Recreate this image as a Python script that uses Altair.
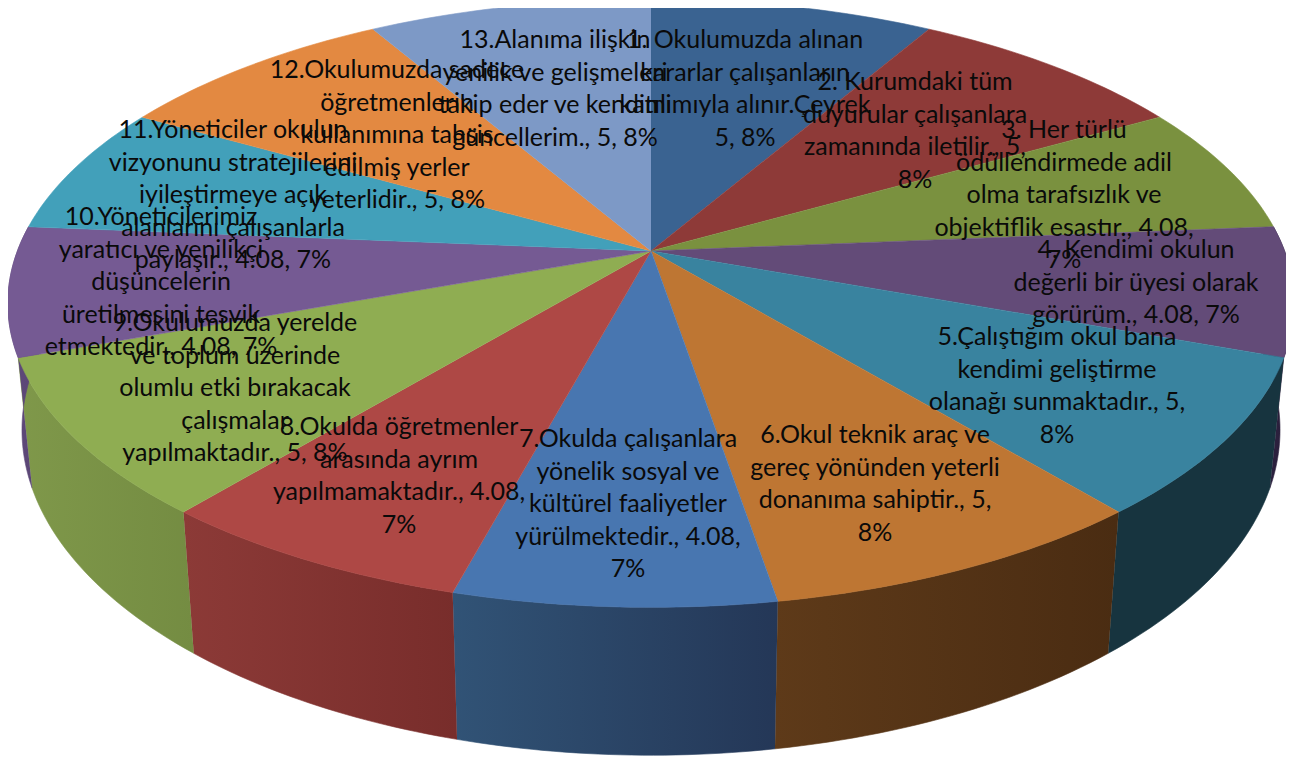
import numpy as np
import pandas as pd
import altair as alt

# ---- data ----
values = [5, 5, 4.08, 4.08, 5, 5, 4.08, 4.08, 5, 4.08, 4.08, 5, 5]
top_colors = ["#3A6391", "#8E3A38", "#7A913F", "#634B78", "#39839F", "#BE7633", "#4876B0",
              "#AE4845", "#8FAD52", "#755A93", "#42A0BA", "#E38941", "#7D99C6"]
wall_colors = [None, None, None, ("#2C2140", "#2A1F3A"), ("#17343F", "#17343F"),
               ("#5E3A19", "#4A2C12"), ("#315376", "#243757"), ("#8C3A37", "#782D2B"),
               ("#7F984A", "#748C42"), ("#5F4A7C", "#5A4573"), None, None, None]
label_lines = [
    ["1. Okulumuzda alınan", "kararlar çalışanların", "katılımıyla alınır.Çeyrek", "5, 8%"],
    ["2. Kurumdaki tüm", "duyurular çalışanlara", "zamanında iletilir., 5,", "8%"],
    ["3. Her türlü", "ödüllendirmede adil", "olma tarafsızlık ve", "objektiflik esastır., 4.08,", "7%"],
    ["4. Kendimi okulun", "değerli bir üyesi olarak", "görürüm., 4.08, 7%"],
    ["5.Çalıştığım okul bana", "kendimi geliştirme", "olanağı sunmaktadır., 5,", "8%"],
    ["6.Okul teknik araç ve", "gereç yönünden yeterli", "donanıma sahiptir., 5,", "8%"],
    ["7.Okulda çalışanlara", "yönelik sosyal ve", "kültürel faaliyetler", "yürülmektedir., 4.08,", "7%"],
    ["8.Okulda öğretmenler", "arasında ayrım", "yapılmamaktadır., 4.08,", "7%"],
    ["9.Okulumuzda yerelde", "ve toplum üzerinde", "olumlu etki bırakacak", "çalışmalar", "yapılmaktadır., 5, 8%"],
    ["10.Yöneticilerimiz", "yaratıcı ve yenilikçi", "düşüncelerin", "üretilmesini tesvik", "etmektedir., 4.08, 7%"],
    ["11.Yöneticiler okulun", "vizyonunu stratejilerini", "iyileştirmeye açık", "alanlarını çalışanlarla", "paylaşır., 4.08, 7%"],
    ["12.Okulumuzda sadece", "öğretmenlerin", "kullanımına tahsis", "edilmiş yerler", "yeterlidir., 5, 8%"],
    ["13.Alanıma ilişkin", "yenilik ve gelişmeleri", "takip eder ve kendimi", "güncellerim., 5, 8%"],
]
label_cx = [745, 915, 1064, 1136, 1057, 875, 628, 399, 235, 161, 233, 397, 555]
label_y0 = [40, 82, 130, 250, 337, 435, 439, 427, 323, 217, 130, 70, 40]
label_step = 32.6

# ---- perspective pie geometry (page pixels) ----
CX, CY = 651.0, 251.0
A, B, K = 633.6, 295.0, 0.172
SHRINK_X, SHRINK_Y, BOTTOM_CY = 0.978, 1.07, 374.0


def project(theta, bottom=False):
    X, Y = np.sin(theta), -np.cos(theta)
    d = 1 - K * Y
    u, v = A * X / d, B * Y / d
    if bottom:
        return CX + SHRINK_X * u, BOTTOM_CY + SHRINK_Y * v
    return CX + u, CY + v


edges = np.concatenate([[0], np.cumsum(values)]) / np.sum(values) * 2 * np.pi
PAGE_W, PAGE_H = 1286, 757
x_enc = alt.X("x:Q", axis=None, scale=alt.Scale(domain=[8, PAGE_W], nice=False, zero=False))
y_enc = alt.Y("y:Q", axis=None, scale=alt.Scale(domain=[8, PAGE_H], reverse=True, nice=False, zero=False))


def poly(xs, ys, fill):
    df = pd.DataFrame({"x": xs, "y": ys, "i": np.arange(len(xs))})
    return alt.Chart(df).mark_line(fill=fill, stroke=fill, strokeWidth=0.6, interpolate="linear").encode(
        x=x_enc, y=y_enc, order=alt.Order("i:Q"))


layers = []
for k in range(len(values)):
    if wall_colors[k] is None:
        continue
    t = np.linspace(edges[k], edges[k + 1], 30)
    xt, yt = project(t)
    xb, yb = project(t[::-1], bottom=True)
    c0, c1 = wall_colors[k]
    grad = alt.LinearGradient(gradient="linear", x1=0, x2=1, y1=0, y2=0, stops=[
        alt.GradientStop(color=c0, offset=0), alt.GradientStop(color=c1, offset=1)])
    layers.append(poly(np.r_[xt, xb], np.r_[yt, yb], grad))

for k in range(len(values)):
    t = np.linspace(edges[k], edges[k + 1], 30)
    xt, yt = project(t)
    layers.append(poly(np.r_[CX, xt], np.r_[CY, yt], top_colors[k]))

rows = []
for lines, cx, y0 in zip(label_lines, label_cx, label_y0):
    for n, s in enumerate(lines):
        rows.append({"x": cx, "y": y0 + n * label_step, "t": s})
text = alt.Chart(pd.DataFrame(rows)).mark_text(
    font="Lato", fontSize=25, color="#0a0a0a", align="center", baseline="middle"
).encode(x=x_enc, y=y_enc, text="t:N")
layers.append(text)

chart = alt.layer(*layers).properties(
    width=PAGE_W - 8, height=PAGE_H - 8, padding=0,
    autosize=alt.AutoSizeParams(type="none")
).configure_view(stroke=None)

chart.save("out.html", embed_options={"renderer": "svg", "actions": False})
